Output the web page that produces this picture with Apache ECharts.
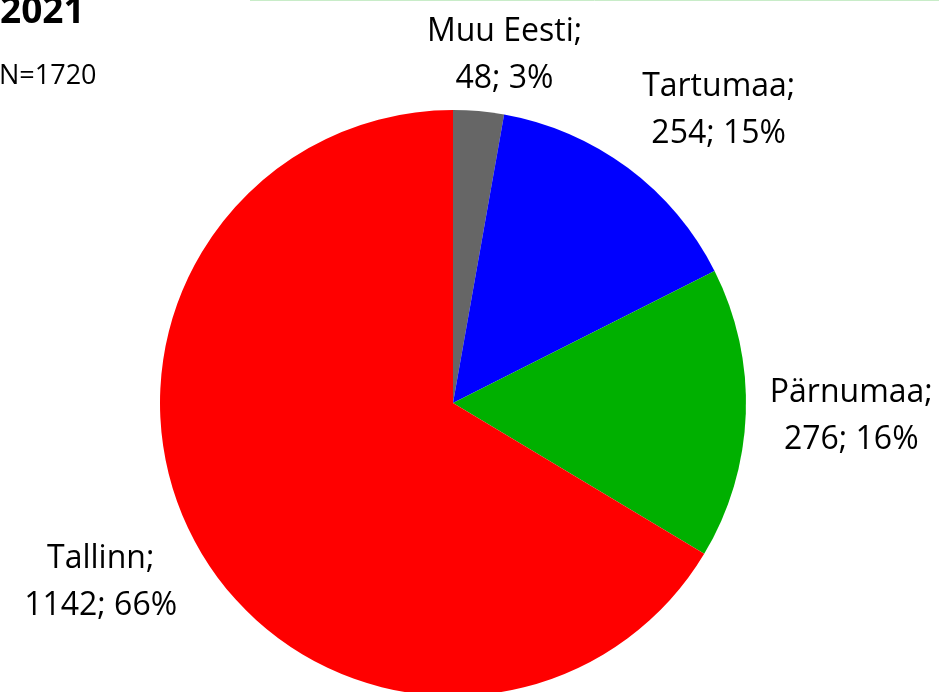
<!DOCTYPE html>
<html>
<head>
<meta charset="utf-8">
<script src="https://cdn.jsdelivr.net/npm/echarts@6/dist/echarts.min.js"></script>
<style>
  html, body { margin: 0; padding: 0; background: #fff; }
  #chart { width: 939px; height: 692px; }
</style>
</head>
<body>
<div id="chart"></div>
<script>
// andmed
var regions = ['Muu Eesti', 'Tartumaa', 'Pärnumaa', 'Tallinn'];
var counts = [48, 254, 276, 1142];
var colors = ['#666666', '#0000FF', '#00B000', '#FF0000'];
var yearText = '2021';
var totalText = 'N=1720';

var chart = echarts.init(document.getElementById('chart'));
var total = counts.reduce(function (a, b) { return a + b; }, 0);

// pirukas
var pieCenter = [453, 403];
var pieRadius = 293;
var labelGap = 24;

// sektori keskmine nurk (radiaanides, 12-st päripäeva)
function midAngle(idx) {
  var before = 0;
  for (var i = 0; i < idx; i++) before += counts[i];
  return (before + counts[idx] / 2) / total * Math.PI * 2;
}

var option = {
  animation: false,
  title: [
    {
      text: yearText,
      left: -5, top: -11,
      textStyle: { fontFamily: 'Open Sans', fontWeight: 'bold', fontSize: 37, color: '#000' }
    },
    {
      text: totalText,
      left: -6, top: 58,
      textStyle: { fontFamily: 'Open Sans', fontWeight: 'normal', fontSize: 27, color: '#000' }
    }
  ],
  graphic: [
    { type: 'line', shape: { x1: 250, y1: 0.5, x2: 939, y2: 0.5 }, style: { stroke: '#c8ecc8', lineWidth: 1 } }
  ],
  series: [{
    type: 'pie',
    center: pieCenter,
    radius: [0, pieRadius],
    startAngle: 90,
    clockwise: true,
    avoidLabelOverlap: false,
    data: regions.map(function (r, i) {
      return { name: r, value: counts[i], itemStyle: { color: colors[i] } };
    }),
    label: {
      show: true,
      position: 'outside',
      fontFamily: 'Open Sans',
      fontSize: 32,
      lineHeight: 47,
      color: '#000',
      formatter: function (p) {
        return p.name + ';\n' + p.value + '; ' + Math.round(p.value / total * 100) + '%';
      }
    },
    labelLine: { show: false },
    // sildid nagu Excelis: kast sektori keskjoone otsas
    labelLayout: function (params) {
      var a = midAngle(params.dataIndex);
      var s = Math.sin(a), c = Math.cos(a);
      var w = params.labelRect.width, h = params.labelRect.height;
      var d = pieRadius + labelGap;
      var px = pieCenter[0] + d * s;
      var py = pieCenter[1] - d * c;
      var kx = Math.max(-1, Math.min(1, s * 3.5));
      var x = px + w / 2 * kx;
      var y = py - h / 2 * c;
      y = Math.max(y, h / 2 + 8);
      return { x: x, y: y, align: 'center', verticalAlign: 'middle' };
    }
  }]
};
chart.setOption(option);
</script>
</body>
</html>
